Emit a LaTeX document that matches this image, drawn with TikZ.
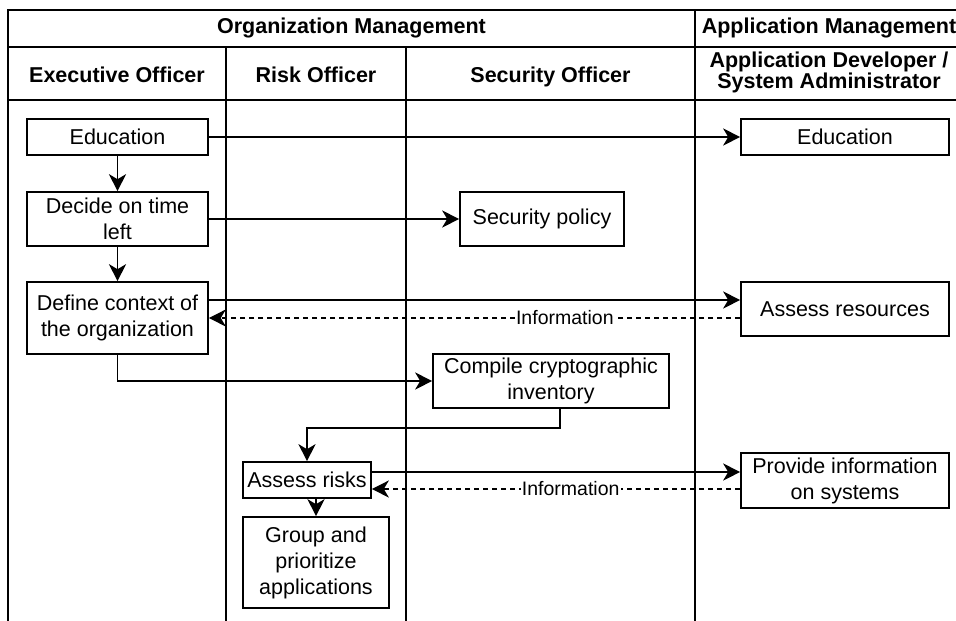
\documentclass[tikz,border=0pt]{standalone}
\usepackage{fontspec}
\setmainfont{Liberation Sans}
\usetikzlibrary{arrows.meta}

\tikzset{
  lane/.style={line width=2pt},
  task/.style={draw,line width=1.6pt,align=center,inner sep=0pt,font=\fontsize{21.5}{26}\selectfont},
  head/.style={align=center,inner sep=0pt,font=\bfseries\fontsize{21.5}{21}\selectfont},
  flow/.style={line width=1.8pt,-{Stealth[length=17pt,width=17pt,inset=5pt]}},
  info/.style={flow,line width=1.5pt,dash pattern=on 5pt off 4pt},
  infolbl/.style={fill=white,inner sep=1pt,font=\fontsize{19.5}{22}\selectfont}
}

\begin{document}
\begin{tikzpicture}[x=1pt,y=-1pt]
\useasboundingbox (0,0) rectangle (956,621);

\draw[lane] (8,621) -- (8,10) -- (956,10);
\draw[lane] (8,47) -- (956,47);
\draw[lane] (8,100) -- (956,100);
\draw[lane] (226,47) -- (226,621);
\draw[lane] (406,47) -- (406,621);
\draw[lane] (695,10) -- (695,621);

\node[head,anchor=base] (orgmgmt) at (351.5,34) {Organization Management};
\node[head,anchor=base] (appmgmt) at (829,34) {Application Management};
\node[head,anchor=base] (exec) at (117,82) {Executive Officer};
\node[head,anchor=base] (risk) at (316,82) {Risk Officer};
\node[head,anchor=base] (sec) at (550.5,82) {Security Officer};
\node[head] (dev) at (829,72.5) {Application Developer /\\System Administrator};

\node[task,minimum width=181pt,minimum height=36pt] (edu) at (117.5,137) {Education};
\node[task,minimum width=181pt,minimum height=54pt] (decide) at (117.5,219) {Decide on time\\left};
\node[task,minimum width=181pt,minimum height=72pt] (context) at (117.5,318) {Define context of\\the organization};
\node[task,minimum width=164pt,minimum height=54pt] (policy) at (542,219) {Security policy};
\node[task,minimum width=236pt,minimum height=54pt] (inventory) at (551,381) {Compile cryptographic\\inventory};
\node[task,minimum width=128pt,minimum height=36pt] (risks) at (307,480) {Assess risks};
\node[task,minimum width=146pt,minimum height=91pt] (prioritize) at (316,562.5) {Group and\\prioritize\\applications};
\node[task,minimum width=208pt,minimum height=36pt] (eduapp) at (845,137) {Education};
\node[task,minimum width=208pt,minimum height=54pt] (resources) at (845,309) {Assess resources};
\node[task,minimum width=208pt,minimum height=55pt] (sysinfo) at (845,480.5) {Provide information\\on systems};

\draw[flow] (edu) -- (eduapp);
\draw[flow] (edu) -- (decide);
\draw[flow] (decide) -- (policy);
\draw[flow] (decide) -- (context);

\coordinate (ctxout) at ([yshift=18pt]context.east);
\draw[flow] (ctxout) -- (ctxout -| resources.west);
\draw[info] (resources.west |- context.east) -- (context.east) node[infolbl,pos=0.33] {Information};

\draw[flow] (context.south) |- (inventory.west);
\draw[flow] ([xshift=9pt]inventory.south) -- ++(0,19) -| (risks.north);

\coordinate (risksout) at ([yshift=8pt]risks.east);
\coordinate (risksin) at ([yshift=-9pt]risks.east);
\draw[flow] (risksout) -- (risksout -| sysinfo.west);
\draw[info] (risksin -| sysinfo.west) -- (risksin) node[infolbl,pos=0.46] {Information};
\draw[flow] (risks.south -| prioritize.north) -- (prioritize.north);

\end{tikzpicture}
\end{document}
